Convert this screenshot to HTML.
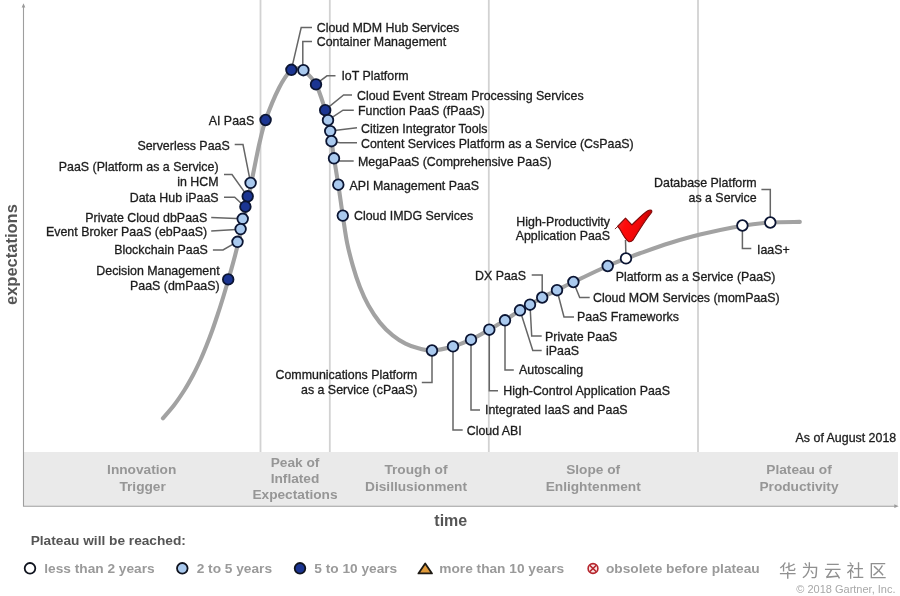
<!DOCTYPE html>
<html lang="en"><head><meta charset="utf-8"><title>Hype Cycle for Platform as a Service, 2018</title>
<style>
html,body{margin:0;padding:0;background:#fff;}
body{width:900px;height:596px;overflow:hidden;}
svg{display:block;}
text{font-family:"Liberation Sans","Noto Sans CJK SC",sans-serif;}
.lb{font-size:12.4px;fill:#1c1c1c;stroke:#1c1c1c;stroke-width:0.3px;}
.bd{font-size:13.7px;font-weight:bold;fill:#969696;text-anchor:middle;}
.lg{font-size:13.7px;font-weight:bold;fill:#9a9a9a;}
.ax{font-size:16px;font-weight:bold;fill:#555;}
</style></head><body>
<svg width="900" height="596" viewBox="0 0 900 596">
<defs>
<linearGradient id="ck" x1="0" y1="0" x2="1" y2="0.35"><stop offset="0" stop-color="#e43a3a"/><stop offset="0.35" stop-color="#ff0a0a"/><stop offset="0.7" stop-color="#f00808"/><stop offset="1" stop-color="#a40000"/></linearGradient>
</defs>
<rect x="0" y="0" width="900" height="596" fill="#fff"/>

<rect x="23.5" y="452" width="874.5" height="54" fill="#eaeaea"/>
<line x1="260.5" y1="0" x2="260.5" y2="452" stroke="#d2d2d2" stroke-width="1.8"/>
<line x1="329.8" y1="0" x2="329.8" y2="452" stroke="#d2d2d2" stroke-width="1.8"/>
<line x1="488.8" y1="0" x2="488.8" y2="452" stroke="#d2d2d2" stroke-width="1.8"/>
<line x1="698" y1="0" x2="698" y2="452" stroke="#d2d2d2" stroke-width="1.8"/>
<path d="M23.5 6V506.2H896" fill="none" stroke="#9e9e9e" stroke-width="1.1"/>
<path d="M21.7 7.6L23.5 3.2L25.3 7.6Z" fill="#9a9a9a"/>
<path d="M894.3 504.3L898.6 506.2L894.3 508.1Z" fill="#9a9a9a"/>
<path d="M162.9 418.3 C164.8 416.1 170.6 409.7 174.2 405.0 C177.8 400.3 181.3 395.0 184.5 390.0 C187.7 385.0 190.4 380.0 193.1 375.0 C195.8 370.0 198.1 365.0 200.4 360.0 C202.7 355.0 204.7 350.0 206.7 345.0 C208.7 340.0 210.6 335.0 212.4 330.0 C214.2 325.0 215.8 320.0 217.5 315.0 C219.2 310.0 220.8 305.0 222.3 300.0 C223.9 295.0 225.3 290.0 226.8 285.0 C228.3 280.0 229.7 275.0 231.1 270.0 C232.5 265.0 234.0 259.7 235.2 255.0 C236.4 250.3 237.4 246.3 238.5 242.0 C239.6 237.7 240.6 233.3 241.6 229.0 C242.6 224.7 243.6 220.3 244.6 216.0 C245.6 211.7 246.4 207.3 247.3 203.0 C248.2 198.7 249.1 194.7 250.0 190.0 C250.9 185.3 251.8 180.3 252.9 175.0 C254.0 169.7 255.1 163.8 256.3 158.0 C257.5 152.2 258.6 146.3 260.2 140.0 C261.8 133.7 262.5 128.7 265.6 120.0 C268.7 111.3 274.7 96.4 279.0 88.0 C283.3 79.6 288.2 73.0 291.3 69.7 C294.4 66.4 295.3 68.2 297.3 68.3 C299.3 68.4 300.4 67.5 303.5 70.2 C306.6 72.9 312.4 77.8 316.0 84.4 C319.6 91.0 323.3 104.1 325.3 110.0 C327.3 115.9 327.2 116.5 328.0 120.0 C328.8 123.5 329.6 127.5 330.2 131.0 C330.8 134.5 330.9 136.5 331.5 141.0 C332.1 145.5 332.9 150.7 334.0 158.0 C335.1 165.3 336.8 175.1 338.3 184.7 C339.8 194.3 341.3 206.0 342.8 215.7 C344.3 225.4 345.4 234.5 347.1 242.8 C348.8 251.1 350.7 258.2 352.8 265.6 C354.9 273.0 357.3 280.4 359.9 287.0 C362.5 293.6 365.2 299.6 368.5 305.5 C371.8 311.4 375.9 317.6 379.9 322.6 C383.9 327.6 388.4 331.9 392.7 335.4 C397.0 338.9 401.2 341.5 405.5 343.6 C409.8 345.8 414.0 347.2 418.4 348.3 C422.8 349.4 426.2 350.8 432.0 350.5 C437.8 350.2 446.5 348.2 453.0 346.4 C459.5 344.6 464.9 342.5 471.0 339.7 C477.1 336.9 483.6 332.9 489.3 329.7 C495.0 326.5 499.9 323.5 505.0 320.3 C510.1 317.1 515.8 312.9 520.0 310.3 C524.2 307.7 526.3 306.8 530.0 304.7 C533.7 302.6 537.7 299.9 542.2 297.5 C546.7 295.1 551.8 292.8 557.0 290.2 C562.2 287.6 564.9 286.0 573.4 282.0 C581.9 278.0 598.9 269.9 607.7 266.0 C616.5 262.1 620.6 260.7 626.0 258.6 C631.4 256.5 632.7 255.9 640.0 253.3 C647.3 250.7 660.0 246.1 670.0 243.0 C680.0 239.9 688.0 237.5 700.0 234.6 C712.0 231.7 730.6 227.7 742.3 225.7 C754.0 223.7 760.4 223.1 770.0 222.5 C779.6 221.9 794.8 222.0 799.8 221.9" fill="none" stroke="#a2a2a2" stroke-width="4.1" stroke-linecap="round" stroke-linejoin="round"/>
<polyline points="291.4,69.6 301.2,27.5 312.0,27.5" fill="none" stroke="#666" stroke-width="1.5"/>
<polyline points="302.8,70.0 302.8,41.6 312.0,41.6" fill="none" stroke="#666" stroke-width="1.5"/>
<polyline points="316.2,83.8 327.0,75.8 335.5,75.8" fill="none" stroke="#666" stroke-width="1.5"/>
<polyline points="325.2,109.8 343.6,95.0 352.0,95.0" fill="none" stroke="#666" stroke-width="1.5"/>
<polyline points="328.0,120.2 343.0,110.2 353.8,110.2" fill="none" stroke="#666" stroke-width="1.5"/>
<polyline points="330.2,131.1 357.0,127.8" fill="none" stroke="#666" stroke-width="1.5"/>
<polyline points="331.5,141.2 340.0,142.8 357.0,142.8" fill="none" stroke="#666" stroke-width="1.5"/>
<polyline points="334.0,158.3 340.0,161.0 353.7,161.0" fill="none" stroke="#666" stroke-width="1.5"/>
<polyline points="234.7,144.6 243.0,144.6 250.6,182.8" fill="none" stroke="#666" stroke-width="1.5"/>
<polyline points="224.0,174.5 232.0,174.5 247.6,196.4" fill="none" stroke="#666" stroke-width="1.5"/>
<polyline points="224.0,197.3 234.7,197.3 245.2,207.0" fill="none" stroke="#666" stroke-width="1.5"/>
<polyline points="211.2,217.4 242.4,218.7" fill="none" stroke="#666" stroke-width="1.5"/>
<polyline points="211.2,230.9 240.5,229.2" fill="none" stroke="#666" stroke-width="1.5"/>
<polyline points="212.9,250.0 223.0,250.0 237.5,241.7" fill="none" stroke="#666" stroke-width="1.5"/>
<polyline points="432.0,350.5 432.0,382.5 421.8,382.5" fill="none" stroke="#666" stroke-width="1.5"/>
<polyline points="453.0,346.4 453.0,430.0 462.7,430.0" fill="none" stroke="#666" stroke-width="1.5"/>
<polyline points="471.0,339.7 471.0,410.0 480.0,410.0" fill="none" stroke="#666" stroke-width="1.5"/>
<polyline points="489.3,329.7 489.3,390.7 498.0,390.7" fill="none" stroke="#666" stroke-width="1.5"/>
<polyline points="505.0,320.3 505.0,370.0 513.8,370.0" fill="none" stroke="#666" stroke-width="1.5"/>
<polyline points="520.0,310.3 532.8,350.4 541.7,350.4" fill="none" stroke="#666" stroke-width="1.5"/>
<polyline points="530.0,304.7 531.7,336.0 541.7,336.0" fill="none" stroke="#666" stroke-width="1.5"/>
<polyline points="531.7,275.0 542.2,275.0 542.2,297.5" fill="none" stroke="#666" stroke-width="1.5"/>
<polyline points="557.0,290.2 564.0,317.0 574.0,317.0" fill="none" stroke="#666" stroke-width="1.5"/>
<polyline points="573.4,282.0 579.7,297.5 589.7,297.5" fill="none" stroke="#666" stroke-width="1.5"/>
<polyline points="626.0,258.4 625.5,240.0" fill="none" stroke="#666" stroke-width="1.5"/>
<polyline points="761.4,189.6 770.3,189.6 770.3,222.5" fill="none" stroke="#666" stroke-width="1.5"/>
<polyline points="742.4,225.5 742.4,248.6 751.3,248.6" fill="none" stroke="#666" stroke-width="1.5"/>
<circle cx="265.6" cy="120.0" r="5.3" fill="#1b3592" stroke="#0b1533" stroke-width="1.8"/>
<circle cx="250.6" cy="182.9" r="5.3" fill="#a9c9ee" stroke="#0b1533" stroke-width="1.8"/>
<circle cx="247.7" cy="196.3" r="5.3" fill="#1b3592" stroke="#0b1533" stroke-width="1.8"/>
<circle cx="245.4" cy="206.7" r="5.3" fill="#1b3592" stroke="#0b1533" stroke-width="1.8"/>
<circle cx="242.7" cy="218.8" r="5.3" fill="#a9c9ee" stroke="#0b1533" stroke-width="1.8"/>
<circle cx="240.6" cy="229.1" r="5.3" fill="#a9c9ee" stroke="#0b1533" stroke-width="1.8"/>
<circle cx="237.5" cy="241.8" r="5.3" fill="#a9c9ee" stroke="#0b1533" stroke-width="1.8"/>
<circle cx="228.2" cy="279.4" r="5.3" fill="#1b3592" stroke="#0b1533" stroke-width="1.8"/>
<circle cx="291.4" cy="69.8" r="5.3" fill="#1b3592" stroke="#0b1533" stroke-width="1.8"/>
<circle cx="303.4" cy="70.2" r="5.3" fill="#a9c9ee" stroke="#0b1533" stroke-width="1.8"/>
<circle cx="316.0" cy="84.4" r="5.3" fill="#1b3592" stroke="#0b1533" stroke-width="1.8"/>
<circle cx="325.2" cy="110.2" r="5.3" fill="#1b3592" stroke="#0b1533" stroke-width="1.8"/>
<circle cx="328.0" cy="120.2" r="5.3" fill="#a9c9ee" stroke="#0b1533" stroke-width="1.8"/>
<circle cx="330.2" cy="131.1" r="5.3" fill="#a9c9ee" stroke="#0b1533" stroke-width="1.8"/>
<circle cx="331.5" cy="141.2" r="5.3" fill="#a9c9ee" stroke="#0b1533" stroke-width="1.8"/>
<circle cx="334.0" cy="158.3" r="5.3" fill="#a9c9ee" stroke="#0b1533" stroke-width="1.8"/>
<circle cx="338.3" cy="184.7" r="5.3" fill="#a9c9ee" stroke="#0b1533" stroke-width="1.8"/>
<circle cx="342.8" cy="215.6" r="5.3" fill="#a9c9ee" stroke="#0b1533" stroke-width="1.8"/>
<circle cx="432.0" cy="350.5" r="5.3" fill="#a9c9ee" stroke="#0b1533" stroke-width="1.8"/>
<circle cx="453.0" cy="346.4" r="5.3" fill="#a9c9ee" stroke="#0b1533" stroke-width="1.8"/>
<circle cx="471.0" cy="339.7" r="5.3" fill="#a9c9ee" stroke="#0b1533" stroke-width="1.8"/>
<circle cx="489.3" cy="329.7" r="5.3" fill="#a9c9ee" stroke="#0b1533" stroke-width="1.8"/>
<circle cx="505.0" cy="320.3" r="5.3" fill="#a9c9ee" stroke="#0b1533" stroke-width="1.8"/>
<circle cx="520.0" cy="310.3" r="5.3" fill="#a9c9ee" stroke="#0b1533" stroke-width="1.8"/>
<circle cx="530.0" cy="304.7" r="5.3" fill="#a9c9ee" stroke="#0b1533" stroke-width="1.8"/>
<circle cx="542.2" cy="297.5" r="5.3" fill="#a9c9ee" stroke="#0b1533" stroke-width="1.8"/>
<circle cx="557.0" cy="290.2" r="5.3" fill="#a9c9ee" stroke="#0b1533" stroke-width="1.8"/>
<circle cx="573.4" cy="282.0" r="5.3" fill="#a9c9ee" stroke="#0b1533" stroke-width="1.8"/>
<circle cx="607.7" cy="266.0" r="5.3" fill="#a9c9ee" stroke="#0b1533" stroke-width="1.8"/>
<circle cx="626.0" cy="258.4" r="5.3" fill="#ffffff" stroke="#0b1533" stroke-width="1.8"/>
<circle cx="742.4" cy="225.5" r="5.3" fill="#ffffff" stroke="#0b1533" stroke-width="1.8"/>
<circle cx="770.3" cy="222.5" r="5.3" fill="#ffffff" stroke="#0b1533" stroke-width="1.8"/>
<path d="M614.9 229.1L617.4 226.6" fill="none" stroke="#7a1010" stroke-width="0.9"/>
<path d="M625.5 218.1L631.9 224.9C637 220 643 213.5 647.8 210.7Q650 209.5 651.4 210.3Q652.3 211 651.6 212.5C646 219 639 230.5 632.9 240.2Q630.6 242.6 628.3 241.4C625 239 622 233 619.8 228.9L617.5 226.4Z" fill="url(#ck)" stroke="#7c0a0a" stroke-width="1.1" stroke-linejoin="round"/>
<text class="lb" x="316.7" y="31.5" text-anchor="start">Cloud MDM Hub Services</text>
<text class="lb" x="316.7" y="45.8" text-anchor="start">Container Management</text>
<text class="lb" x="341.4" y="80.1" text-anchor="start">IoT Platform</text>
<text class="lb" x="357.0" y="100.1" text-anchor="start">Cloud Event Stream Processing Services</text>
<text class="lb" x="358.0" y="114.8" text-anchor="start">Function PaaS (fPaaS)</text>
<text class="lb" x="361.0" y="132.8" text-anchor="start">Citizen Integrator Tools</text>
<text class="lb" x="361.0" y="148.1" text-anchor="start">Content Services Platform as a Service (CsPaaS)</text>
<text class="lb" x="358.0" y="166.3" text-anchor="start">MegaPaaS (Comprehensive PaaS)</text>
<text class="lb" x="349.5" y="189.5" text-anchor="start">API Management PaaS</text>
<text class="lb" x="354.0" y="220.0" text-anchor="start">Cloud IMDG Services</text>
<text class="lb" x="254.2" y="125.2" text-anchor="end">AI PaaS</text>
<text class="lb" x="229.7" y="149.7" text-anchor="end">Serverless PaaS</text>
<text class="lb" x="218.6" y="171.0" text-anchor="end">PaaS (Platform as a Service)</text>
<text class="lb" x="218.6" y="185.6" text-anchor="end">in HCM</text>
<text class="lb" x="218.6" y="201.8" text-anchor="end">Data Hub iPaaS</text>
<text class="lb" x="207.2" y="221.5" text-anchor="end">Private Cloud dbPaaS</text>
<text class="lb" x="207.2" y="235.5" text-anchor="end">Event Broker PaaS (ebPaaS)</text>
<text class="lb" x="207.9" y="253.7" text-anchor="end">Blockchain PaaS</text>
<text class="lb" x="219.6" y="275.0" text-anchor="end">Decision Management</text>
<text class="lb" x="219.6" y="289.6" text-anchor="end">PaaS (dmPaaS)</text>
<text class="lb" x="417.4" y="379.0" text-anchor="end">Communications Platform</text>
<text class="lb" x="417.4" y="394.3" text-anchor="end">as a Service (cPaaS)</text>
<text class="lb" x="466.7" y="435.0" text-anchor="start">Cloud ABI</text>
<text class="lb" x="485.0" y="414.0" text-anchor="start">Integrated IaaS and PaaS</text>
<text class="lb" x="503.3" y="394.5" text-anchor="start">High-Control Application PaaS</text>
<text class="lb" x="519.0" y="374.0" text-anchor="start">Autoscaling</text>
<text class="lb" x="546.0" y="354.5" text-anchor="start">iPaaS</text>
<text class="lb" x="545.0" y="341.0" text-anchor="start">Private PaaS</text>
<text class="lb" x="577.0" y="321.3" text-anchor="start">PaaS Frameworks</text>
<text class="lb" x="593.0" y="301.7" text-anchor="start">Cloud MOM Services (momPaaS)</text>
<text class="lb" x="615.7" y="280.7" text-anchor="start">Platform as a Service (PaaS)</text>
<text class="lb" x="526.0" y="279.8" text-anchor="end">DX PaaS</text>
<text class="lb" x="610.0" y="225.7" text-anchor="end">High-Productivity</text>
<text class="lb" x="610.0" y="240.0" text-anchor="end">Application PaaS</text>
<text class="lb" x="756.7" y="186.7" text-anchor="end">Database Platform</text>
<text class="lb" x="756.7" y="201.9" text-anchor="end">as a Service</text>
<text class="lb" x="757.0" y="253.7" text-anchor="start">IaaS+</text>
<text class="lb" x="896.2" y="441.8" text-anchor="end">As of August 2018</text>
<text class="bd" x="141.7" y="474.4">Innovation</text>
<text class="bd" x="142.6" y="491.0">Trigger</text>
<text class="bd" x="295.0" y="466.6">Peak of</text>
<text class="bd" x="295.0" y="482.9">Inflated</text>
<text class="bd" x="295.0" y="499.2">Expectations</text>
<text class="bd" x="416.0" y="474.4">Trough of</text>
<text class="bd" x="416.0" y="491.1">Disillusionment</text>
<text class="bd" x="593.2" y="473.9">Slope of</text>
<text class="bd" x="593.2" y="491.2">Enlightenment</text>
<text class="bd" x="799.0" y="473.9">Plateau of</text>
<text class="bd" x="799.0" y="491.1">Productivity</text>
<text class="ax" x="434.3" y="526">time</text>
<text class="ax" transform="translate(17.2 305) rotate(-90)" style="font-size:16.5px">expectations</text>
<text x="30.7" y="545" font-size="13.7" font-weight="bold" fill="#555">Plateau will be reached:</text>
<circle cx="30" cy="568.3" r="5.3" fill="#fff" stroke="#10141f" stroke-width="1.8"/>
<text class="lg" x="44.3" y="572.7">less than 2 years</text>
<circle cx="182.3" cy="568.3" r="5.3" fill="#a9c9ee" stroke="#10141f" stroke-width="1.8"/>
<text class="lg" x="196.7" y="572.7">2 to 5 years</text>
<circle cx="300" cy="568.3" r="5.3" fill="#1b3592" stroke="#10141f" stroke-width="1.8"/>
<text class="lg" x="314.3" y="572.7">5 to 10 years</text>
<path d="M425.2 563.5L432 573.4H418.4Z" fill="#e09a3a" stroke="#1e1a14" stroke-width="1.8" stroke-linejoin="round"/>
<text class="lg" x="439.3" y="572.7">more than 10 years</text>
<g stroke="#b5242c" stroke-width="1.6" fill="#f8e4e4"><circle cx="593" cy="568.5" r="4.9"/><path d="M589.7 565.2L596.3 571.8M596.3 565.2L589.7 571.8"/></g>
<text class="lg" x="606" y="572.7">obsolete before plateau</text>
<text x="779" y="577.2" font-size="17.5" fill="#909090" letter-spacing="5">华为云社区</text>
<text x="895.5" y="592.6" font-size="11" fill="#a8a8a8" text-anchor="end">© 2018 Gartner, Inc.</text>
</svg></body></html>
